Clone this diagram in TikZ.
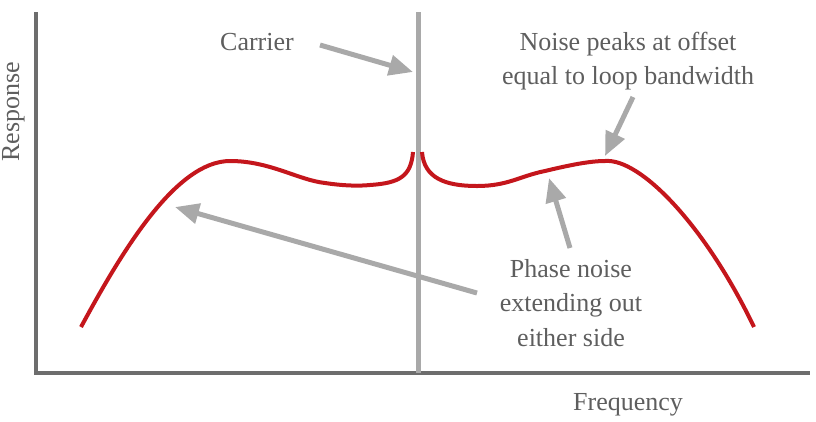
\documentclass[tikz,border=0pt]{standalone}
\usepackage{fontspec}
\setmainfont{Liberation Serif}
\usetikzlibrary{arrows.meta}
\definecolor{axisgray}{HTML}{6D6D6D}
\definecolor{lightgray}{HTML}{A9A9A9}
\definecolor{textgray}{HTML}{5E5E5E}
\definecolor{curvered}{HTML}{C4161C}
\tikzset{
  lbl/.style={text=textgray, font=\fontsize{26}{34.5}\selectfont, align=center, inner sep=0pt},
  axisline/.style={draw=axisgray, line width=3.5pt, line join=miter},
  carrierline/.style={draw=lightgray, line width=5pt},
  noisecurve/.style={draw=curvered, line width=4pt},
  pointer/.style={draw=lightgray, line width=5pt, -{Triangle[length=24pt,width=20pt]}}
}
\begin{document}
\begin{tikzpicture}[x=1pt,y=-1pt]
\useasboundingbox (0,0) rectangle (816,421);
% axes
\coordinate (ytop) at (36,12);
\coordinate (origin) at (36,373);
\coordinate (xend) at (810,373);
\draw[axisline] (ytop) -- (origin) -- (xend);
% carrier
\coordinate (ctop) at (418,12);
\coordinate (cbot) at (418,373);
\draw[carrierline] (ctop) -- (cbot);
% noise curve
\draw[noisecurve] (81,327) .. controls (120,255) and (175,161) .. (230,161)
  .. controls (270,161) and (298,180) .. (325,183)
  .. controls (345,186) and (360,186) .. (370,185)
  .. controls (400,183) and (411,176) .. (413,152);
\draw[noisecurve] (422,152) .. controls (424,178) and (445,186) .. (477,186)
  .. controls (508,186) and (520,176) .. (545,171)
  .. controls (570,165) and (590,161) .. (605,161)
  .. controls (640,158) and (705,225) .. (754,327);
% labels
\node[lbl] (carrier) at (257,42) {Carrier};
\node[lbl] (peaks) at (628,61) {\fontsize{26}{33}\selectfont Noise peaks at offset\\equal to loop bandwidth};
\node[lbl] (phase) at (571,303) {Phase noise\\extending out\\either side};
\node[lbl] (freq) at (628,405) {Frequency};
\node[lbl, rotate=90] (resp) at (13.5,112) {Response};
% pointers
\coordinate (a1s) at (320,45);
\coordinate (a1e) at (413,72);
\coordinate (a2s) at (633,97);
\coordinate (a2e) at (605,156);
\coordinate (a3s) at (570,248);
\coordinate (a3e) at (549,178);
\coordinate (a4s) at (477,293);
\coordinate (a4e) at (175,207);
\draw[pointer] (a1s) -- (a1e);
\draw[pointer] (a2s) -- (a2e);
\draw[pointer] (a3s) -- (a3e);
\draw[pointer] (a4s) -- (a4e);
\end{tikzpicture}
\end{document}
